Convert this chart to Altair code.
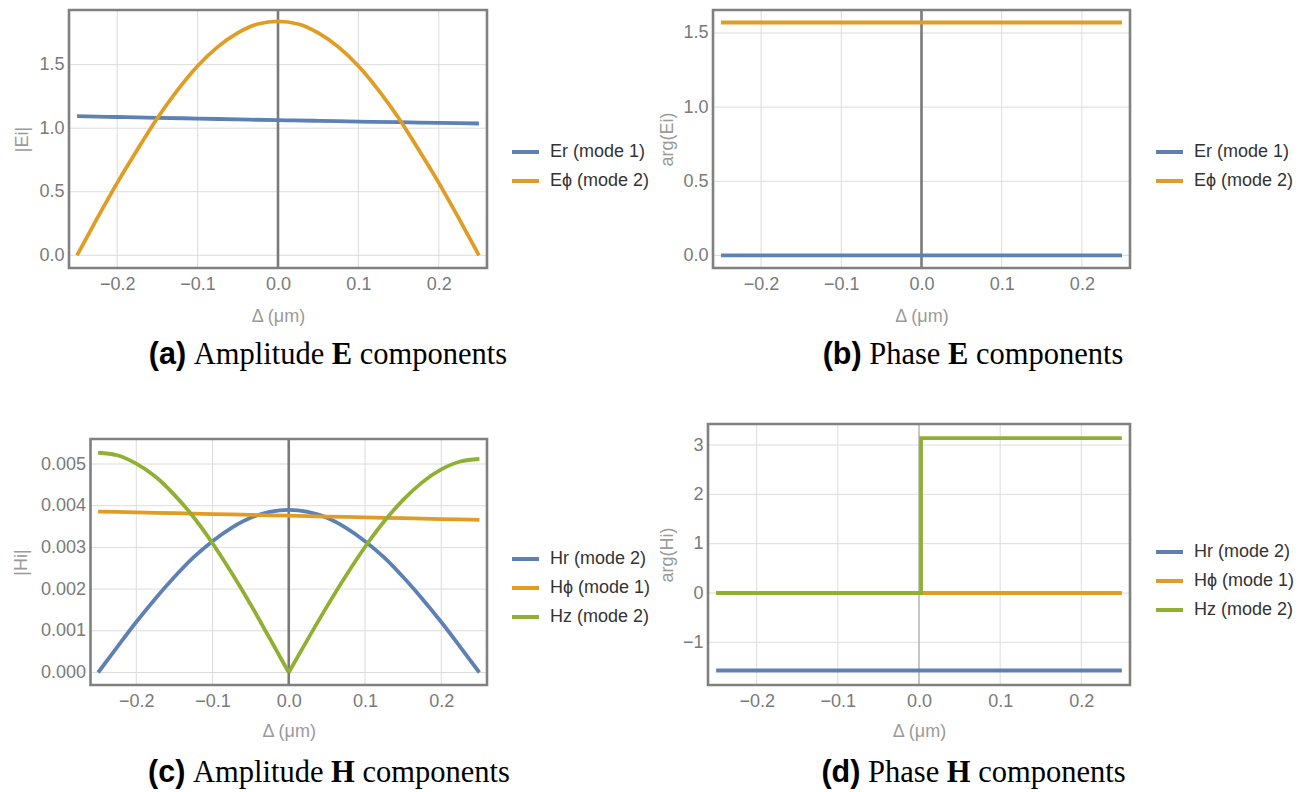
import altair as alt
import pandas as pd

# ---------------- data ----------------
x21 = [-0.25, -0.225, -0.2, -0.175, -0.15, -0.125, -0.1, -0.075, -0.05, -0.025, 0.0,
       0.025, 0.05, 0.075, 0.1, 0.125, 0.15, 0.175, 0.2, 0.225, 0.25]
x11 = [-0.25, -0.2, -0.15, -0.1, -0.05, 0.0, 0.05, 0.1, 0.15, 0.2, 0.25]
x_left = [-0.25, -0.225, -0.2, -0.175, -0.15, -0.125, -0.1, -0.075, -0.05, -0.025, 0.0]
x_right = [0.0, 0.025, 0.05, 0.075, 0.1, 0.125, 0.15, 0.175, 0.2, 0.225, 0.25]
x_flat = [-0.25, 0.25]
x_step = [-0.25, 0.0025, 0.0025, 0.25]

# (a) amplitude E
er_amp = [1.095, 1.088, 1.082, 1.076, 1.069, 1.063, 1.058, 1.052, 1.047, 1.042, 1.037]
ephi_amp = [0.0, 0.29, 0.57, 0.83, 1.08, 1.30, 1.49, 1.64, 1.75, 1.82, 1.84,
            1.82, 1.75, 1.64, 1.49, 1.30, 1.08, 0.83, 0.57, 0.29, 0.0]
# (b) phase E
er_phase = [0.0, 0.0]
ephi_phase = [1.5708, 1.5708]
# (c) amplitude H
hr_amp = [0.0, 0.00061, 0.00121, 0.00177, 0.00229, 0.00276, 0.00315, 0.00347, 0.00371, 0.00385, 0.0039,
          0.00385, 0.00371, 0.00347, 0.00315, 0.00276, 0.00229, 0.00177, 0.00121, 0.00061, 0.0]
hphi_amp = [0.00386, 0.00384, 0.00382, 0.0038, 0.00378, 0.00376, 0.00374, 0.00372, 0.0037, 0.00368, 0.00366]
hz_amp_left = [0.00527, 0.00521, 0.00501, 0.00470, 0.00426, 0.00373, 0.00310, 0.00239, 0.00163, 0.00082, 0.0]
hz_amp_right = [0.0, 0.00080, 0.00158, 0.00232, 0.00301, 0.00362, 0.00414, 0.00456, 0.00487, 0.00506, 0.00512]
# (d) phase H
hr_phase = [-1.5708, -1.5708]
hphi_phase = [0.0, 0.0]
hz_phase = [0.0, 0.0, 3.1416, 3.1416]

names_E = ["Er (mode 1)", "E\u03d5 (mode 2)"]
names_H = ["Hr (mode 2)", "H\u03d5 (mode 1)", "Hz (mode 2)"]
x_ticks = [-0.2, -0.1, 0.0, 0.1, 0.2]
ya_ticks = [0.0, 0.5, 1.0, 1.5]
yb_ticks = [0.0, 0.5, 1.0, 1.5]
yc_ticks = [0.0, 0.001, 0.002, 0.003, 0.004, 0.005]
yd_ticks = [-1, 0, 1, 2, 3]

BLUE, ORANGE, GREEN = "#5E81B5", "#E19C24", "#8FB032"
GRID = "#dcdcdc"
FRAME = "#808080"
FONT = "Liberation Sans"
SERIF = "Liberation Serif"
H_TOTAL = 792
LBL = 18


def long_df(series):
    rows = []
    for name, part, xs, ys in series:
        for i, (xv, yv) in enumerate(zip(xs, ys)):
            rows.append({"x": xv, "y": yv, "s": name, "p": part, "o": i})
    return pd.DataFrame(rows)


def panel(df, names, colors, xdom, xrng, ydom, yrng, yticks, yfmt, ytitle,
          ytitle_x, xtitle_y, legx, legy, zero_w, zero_c, interp):
    xsc = alt.Scale(domain=xdom, range=xrng, nice=False, zero=False)
    ysc = alt.Scale(domain=ydom, range=yrng, nice=False, zero=False)
    common = dict(grid=False, domain=False, ticks=False, labelOverlap=False, labelFlush=False,
                  labelFont=FONT, labelFontSize=LBL, labelColor="#7a7a7a",
                  titleFont=FONT, titleFontSize=LBL, titleColor="#9a9a9a",
                  titleFontWeight="normal", titleBaseline="middle")
    xaxis = alt.Axis(orient="bottom", offset=yrng[0] - H_TOTAL, values=x_ticks, format=".1f",
                     title="\u0394 (\u03bcm)", labelPadding=7,
                     titleX=(xrng[0] + xrng[1]) / 2, titleY=xtitle_y, **common)
    yaxis = alt.Axis(orient="left", offset=-xrng[0], values=yticks, format=yfmt,
                     title=ytitle, labelPadding=5,
                     titleX=ytitle_x - xrng[0], titleY=(yrng[0] + yrng[1]) / 2, **common)
    one = pd.DataFrame({"k": [0]})

    vgrid = alt.Chart(pd.DataFrame({"t": x_ticks})).mark_rule(color=GRID, strokeWidth=1).encode(
        x=alt.X("t:Q", scale=xsc, axis=xaxis),
        y=alt.YDatum(ydom[0], scale=ysc, axis=yaxis),
        y2=alt.Y2Datum(ydom[1]),
    )
    hgrid = alt.Chart(pd.DataFrame({"t": yticks})).mark_rule(color=GRID, strokeWidth=1).encode(
        y=alt.Y("t:Q", scale=ysc, axis=yaxis),
        x=alt.XDatum(xdom[0], scale=xsc, axis=xaxis),
        x2=alt.X2Datum(xdom[1]),
    )
    zero = alt.Chart(one).mark_rule(color=zero_c, strokeWidth=zero_w).encode(
        x=alt.XDatum(0, scale=xsc, axis=xaxis),
        y=alt.YDatum(ydom[0], scale=ysc, axis=yaxis),
        y2=alt.Y2Datum(ydom[1]),
    )
    lines = alt.Chart(df).mark_line(strokeWidth=3.8, interpolate=interp).encode(
        x=alt.X("x:Q", scale=xsc, axis=xaxis),
        y=alt.Y("y:Q", scale=ysc, axis=yaxis),
        color=alt.Color("s:N", scale=alt.Scale(domain=names, range=colors),
                        legend=alt.Legend(orient="none", legendX=legx, legendY=legy, title=None,
                                          symbolType="stroke", symbolSize=729, symbolStrokeWidth=4,
                                          labelFontSize=LBL, labelFont=FONT, labelColor="#333333",
                                          labelOffset=9, rowPadding=4, padding=0)),
        detail="p:N",
        order="o:Q",
    )
    frame = alt.Chart(one).mark_rect(fillOpacity=0, stroke=FRAME, strokeWidth=2.6).encode(
        x=alt.XDatum(xdom[0], scale=xsc, axis=xaxis),
        x2=alt.X2Datum(xdom[1]),
        y=alt.YDatum(ydom[0], scale=ysc, axis=yaxis),
        y2=alt.Y2Datum(ydom[1]),
    )
    return alt.layer(vgrid, hgrid, zero, lines, frame)


df_a = long_df([(names_E[0], "a", x11, er_amp), (names_E[1], "a", x21, ephi_amp)])
df_b = long_df([(names_E[0], "a", x_flat, er_phase), (names_E[1], "a", x_flat, ephi_phase)])
df_c = long_df([(names_H[0], "a", x21, hr_amp), (names_H[1], "a", x11, hphi_amp),
                (names_H[2], "L", x_left, hz_amp_left), (names_H[2], "R", x_right, hz_amp_right)])
df_d = long_df([(names_H[0], "a", x_flat, hr_phase), (names_H[1], "a", x_flat, hphi_phase),
                (names_H[2], "a", x_step, hz_phase)])

pa = panel(df_a, names_E, [BLUE, ORANGE], [-0.26, 0.26], [69, 487], [-0.1, 1.93], [268, 10],
           ya_ticks, ".1f", "|Ei|", 22, 48.5, 510, 136.5, 2.6, "#7a7a7a", "monotone")
pb = panel(df_b, names_E, [BLUE, ORANGE], [-0.26, 0.26], [713, 1130], [-0.085, 1.655], [268, 10],
           yb_ticks, ".1f", "arg(Ei)", 667.5, 48.5, 1154, 136.5, 2.6, "#7a7a7a", "linear")
pc = panel(df_c, names_H, [BLUE, ORANGE, GREEN], [-0.26, 0.26], [90.5, 487], [-0.0003, 0.0056], [685, 439],
           yc_ticks, ".3f", "|Hi|", 21, 46.5, 510, 543.5, 2.6, "#7a7a7a", "monotone")
pd_ = panel(df_d, names_H, [BLUE, ORANGE, GREEN], [-0.26, 0.26], [708, 1130], [-1.865, 3.426], [685, 424],
            yd_ticks, "d", "arg(Hi)", 667.5, 46, 1154, 536.5, 1.0, "#a0a0a0", "linear")

# ---------------- captions (mixed fonts) ----------------
CAP = 30.5
dummy = pd.DataFrame({"k": [0]})


def caption(label, label_em, word, word_em, vec, vec_em, cx, base):
    parts = [(label, FONT, "bold", label_em), ("", SERIF, "normal", 0.25),
             (word, SERIF, "normal", word_em), ("", SERIF, "normal", 0.25),
             (vec, SERIF, "bold", vec_em), ("", SERIF, "normal", 0.25),
             ("components", SERIF, "normal", 4.833)]
    total = sum(p[3] for p in parts) * CAP
    x = cx - total / 2
    layers = []
    for text, font, weight, em in parts:
        if text:
            layers.append(alt.Chart(dummy).mark_text(
                x=x, y=base, align="left", baseline="alphabetic", font=font,
                fontWeight=weight, fontSize=CAP, color="black").encode(text=alt.value(text)))
        x += em * CAP
    return layers


caps = []
caps += caption("(a)", 1.222, "Amplitude", 4.278, "E", 0.667, 328, 364)
caps += caption("(b)", 1.277, "Phase", 2.333, "E", 0.667, 973, 364)
caps += caption("(c)", 1.222, "Amplitude", 4.278, "H", 0.778, 329, 782)
caps += caption("(d)", 1.277, "Phase", 2.333, "H", 0.778, 973.5, 782)

chart = alt.layer(pa, pb, pc, pd_, *caps).resolve_scale(
    x="independent", y="independent", color="independent"
).resolve_axis(
    x="independent", y="independent"
).resolve_legend(
    color="independent"
).properties(
    width=1303, height=792, padding=0, autosize=alt.AutoSizeParams(type="none")
).configure_view(
    stroke=None
)

chart.save("out.html", embed_options={"renderer": "svg", "actions": False})
